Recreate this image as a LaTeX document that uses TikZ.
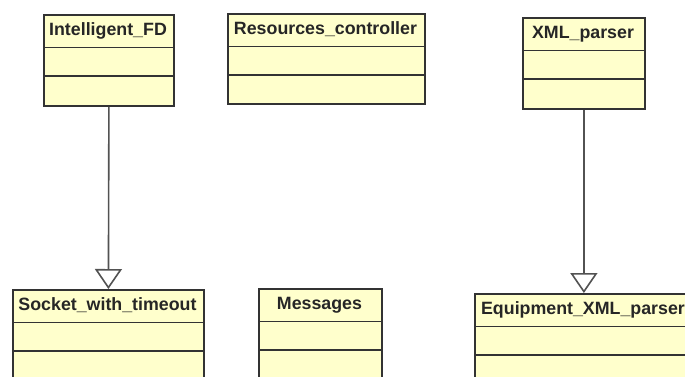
\documentclass[tikz,border=0pt]{standalone}
\usepackage{fontspec}
\setmainfont{Liberation Sans}
\usetikzlibrary{arrows.meta}
\definecolor{clsfill}{HTML}{FFFFCC}
\definecolor{clsline}{HTML}{333333}
\tikzset{
 clsbox/.style={draw=clsline, fill=clsfill, line width=1.8pt, inner sep=0pt, anchor=north west},
 clstitle/.style={anchor=base, inner sep=0pt, font=\fontsize{17.8}{20}\selectfont\bfseries, text=black!85},
 divider/.style={draw=clsline, line width=1.8pt},
 inherit/.style={draw=clsline!85, line width=1.6pt, -{Triangle[open, length=20pt, width=27pt, fill=white]}}
}
\newcommand\umlcls[6]{%
  \node[clsbox, minimum width=#4pt, minimum height=#5pt] (#1) at (#2,#3) {};
  \node[clstitle] (#1-t) at (#2+#4/2, #3+21) {#6};
  \draw[divider] ([yshift=-33.5pt]#1.north west) -- ([yshift=-33.5pt]#1.north east);
  \draw[divider] ([yshift=-62pt]#1.north west) -- ([yshift=-62pt]#1.north east);
}
\begin{document}
\begin{tikzpicture}[x=1pt,y=-1pt]
\useasboundingbox (0,0) rectangle (685,376);
\clip (0,0) rectangle (685,376);
\umlcls{ifd}{43}{14}{130}{91}{Intelligent\_FD}
\umlcls{res}{227}{13}{197}{90}{Resources\_controller}
\umlcls{xml}{522}{17}{122}{91}{XML\_parser}
\umlcls{sock}{12}{289}{191}{91}{Socket\_with\_timeout}
\umlcls{msg}{258}{288}{123}{91}{Messages}
\umlcls{eq}{474}{293}{218}{91}{Equipment\_XML\_parser}
\draw[inherit] (ifd.south) -- (sock.north);
\draw[inherit] (xml.south) -- (eq.north);
\end{tikzpicture}
\end{document}
